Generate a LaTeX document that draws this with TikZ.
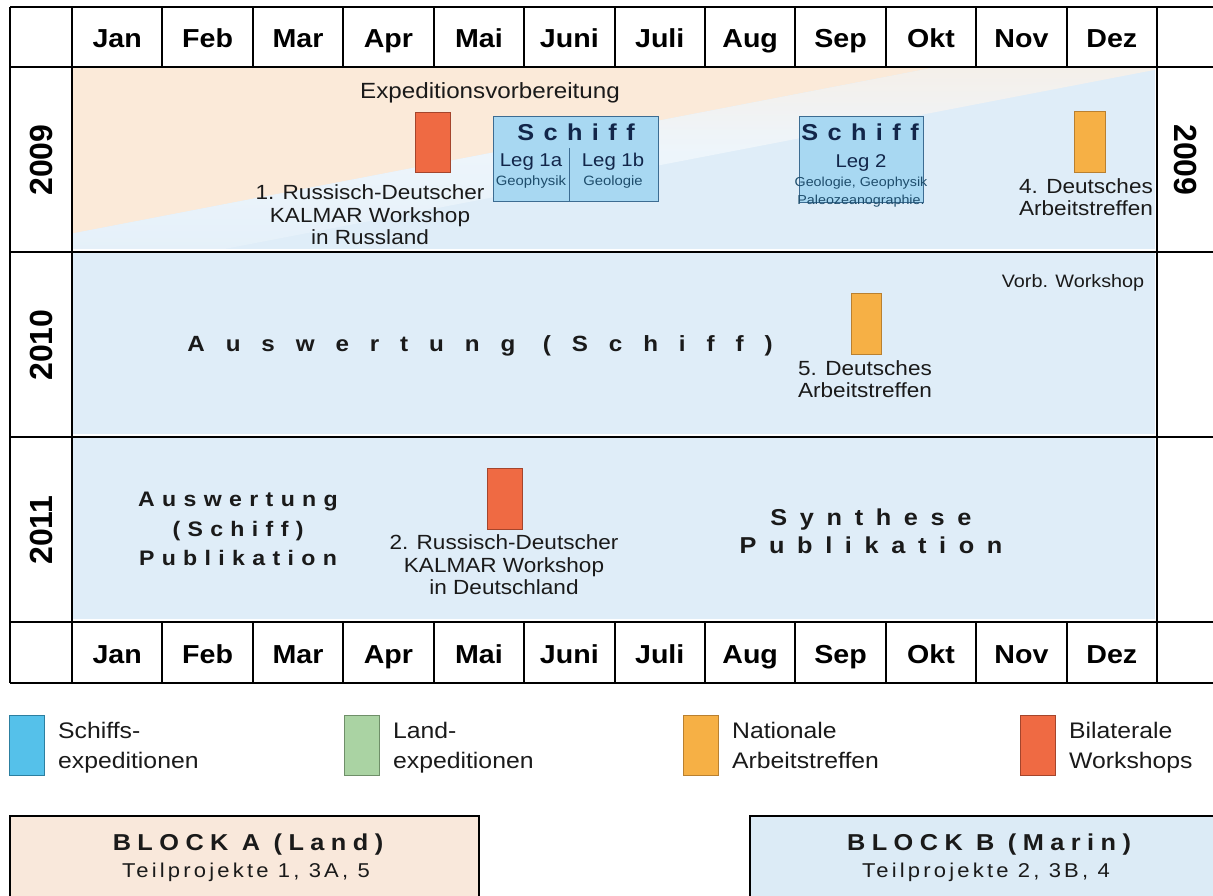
\documentclass[tikz,border=0pt]{standalone}
\usepackage{fontspec}
\setmainfont{Liberation Sans}[FakeStretch=1.1]
\newfontfamily\yearfont{Liberation Sans}
\newcommand\fsz[2]{\fontsize{#1}{#2}\selectfont}
\newcommand\track[1]{\addfontfeature{LetterSpace=#1}}

\definecolor{peach}{HTML}{FBEAD9}
\definecolor{rowblue}{HTML}{DFEDF8}
\definecolor{shipblue}{HTML}{A8D8F2}
\definecolor{shipline}{HTML}{3C6C92}
\definecolor{wsred}{HTML}{EF6A43}
\definecolor{wsline}{HTML}{A4452C}
\definecolor{natorange}{HTML}{F6B045}
\definecolor{natline}{HTML}{B98030}
\definecolor{landgreen}{HTML}{AAD3A3}
\definecolor{landline}{HTML}{6F8F69}
\definecolor{legblue}{HTML}{55C1EA}
\definecolor{legline}{HTML}{2C7FA0}
\definecolor{navy}{HTML}{12264A}
\definecolor{legtext}{HTML}{1E4D6C}
\definecolor{ink}{HTML}{1A1A1A}
\definecolor{blockA}{HTML}{F9E8DB}
\definecolor{blockB}{HTML}{DCEBF6}

\begin{document}
\begin{tikzpicture}[x=1pt,y=-1pt]
  \def\mw{90.42}
  \def\xo{72}

\tikzstyle{grid}=[line width=2pt,black]
\tikzstyle{month}=[anchor=base,inner sep=0pt,font=\fsz{26}{28}\bfseries]
\tikzstyle{year}=[inner sep=0pt,font=\yearfont\fsz{32}{34}\bfseries]
\tikzstyle{label}=[align=center,inner sep=0pt,text=ink,font=\fsz{20.5}{22.5}]
\tikzstyle{spaced}=[align=center,inner sep=0pt,text=ink]
\tikzstyle{workshop}=[fill=wsred,draw=wsline,line width=0.8pt,inner sep=0pt]
\tikzstyle{treffen}=[fill=natorange,draw=natline,line width=0.8pt,inner sep=0pt]
\tikzstyle{ship}=[fill=shipblue,draw=shipline,line width=1pt,inner sep=0pt]
\tikzstyle{keybox}=[line width=0.8pt,inner sep=0pt,minimum width=35pt,minimum height=60pt]
\tikzstyle{keytext}=[anchor=west,align=left,inner sep=0pt,text=ink,text depth=5pt,font=\fsz{22.5}{30}]

\useasboundingbox (0,0) rectangle (1213,896);
\clip (0,0) rectangle (1213,896);

% row backgrounds
\fill[rowblue] (72,67) rectangle (1155,249);
\begin{scope}
\clip (72,67) rectangle (1155,249);
\begin{scope}[shift={(72,258)},rotate=10.9]
\fill[peach] (-200,-500) rectangle (1300,-24);
\shade[top color=peach,bottom color=rowblue,middle color=white!45!rowblue] (-200,-24) rectangle (1300,20);
\end{scope}
\end{scope}
\fill[rowblue] (72,252) rectangle (1155,434);
\fill[rowblue] (72,437) rectangle (1155,619);

% table
\draw[grid] (10,7) -- (1215,7);
\draw[grid] (10,67) -- (1215,67);
\draw[grid] (10,252) -- (1215,252);
\draw[grid] (10,437) -- (1215,437);
\draw[grid] (10,622) -- (1215,622);
\draw[grid] (10,683) -- (1215,683);
\draw[grid] (10,7) -- (10,683);
\draw[grid] (\xo,7) -- (\xo,683);
\draw[grid] (1157,7) -- (1157,683);
\draw[grid] (\xo+1*\mw,7) -- (\xo+1*\mw,67) (\xo+1*\mw,622) -- (\xo+1*\mw,683);
\draw[grid] (\xo+2*\mw,7) -- (\xo+2*\mw,67) (\xo+2*\mw,622) -- (\xo+2*\mw,683);
\draw[grid] (\xo+3*\mw,7) -- (\xo+3*\mw,67) (\xo+3*\mw,622) -- (\xo+3*\mw,683);
\draw[grid] (\xo+4*\mw,7) -- (\xo+4*\mw,67) (\xo+4*\mw,622) -- (\xo+4*\mw,683);
\draw[grid] (\xo+5*\mw,7) -- (\xo+5*\mw,67) (\xo+5*\mw,622) -- (\xo+5*\mw,683);
\draw[grid] (\xo+6*\mw,7) -- (\xo+6*\mw,67) (\xo+6*\mw,622) -- (\xo+6*\mw,683);
\draw[grid] (\xo+7*\mw,7) -- (\xo+7*\mw,67) (\xo+7*\mw,622) -- (\xo+7*\mw,683);
\draw[grid] (\xo+8*\mw,7) -- (\xo+8*\mw,67) (\xo+8*\mw,622) -- (\xo+8*\mw,683);
\draw[grid] (\xo+9*\mw,7) -- (\xo+9*\mw,67) (\xo+9*\mw,622) -- (\xo+9*\mw,683);
\draw[grid] (\xo+10*\mw,7) -- (\xo+10*\mw,67) (\xo+10*\mw,622) -- (\xo+10*\mw,683);
\draw[grid] (\xo+11*\mw,7) -- (\xo+11*\mw,67) (\xo+11*\mw,622) -- (\xo+11*\mw,683);

% months
\node[month] (T1) at (\xo+0.5*\mw,48) {Jan};
\node[month] (T2) at (\xo+1.5*\mw,48) {Feb};
\node[month] (T3) at (\xo+2.5*\mw,48) {Mar};
\node[month] (T4) at (\xo+3.5*\mw,48) {Apr};
\node[month] (T5) at (\xo+4.5*\mw,48) {Mai};
\node[month] (T6) at (\xo+5.5*\mw,48) {Juni};
\node[month] (T7) at (\xo+6.5*\mw,48) {Juli};
\node[month] (T8) at (\xo+7.5*\mw,48) {Aug};
\node[month] (T9) at (\xo+8.5*\mw,48) {Sep};
\node[month] (T10) at (\xo+9.5*\mw,48) {Okt};
\node[month] (T11) at (\xo+10.5*\mw,48) {Nov};
\node[month] (T12) at (\xo+11.5*\mw,48) {Dez};
\node[month] (B1) at (\xo+0.5*\mw,663) {Jan};
\node[month] (B2) at (\xo+1.5*\mw,663) {Feb};
\node[month] (B3) at (\xo+2.5*\mw,663) {Mar};
\node[month] (B4) at (\xo+3.5*\mw,663) {Apr};
\node[month] (B5) at (\xo+4.5*\mw,663) {Mai};
\node[month] (B6) at (\xo+5.5*\mw,663) {Juni};
\node[month] (B7) at (\xo+6.5*\mw,663) {Juli};
\node[month] (B8) at (\xo+7.5*\mw,663) {Aug};
\node[month] (B9) at (\xo+8.5*\mw,663) {Sep};
\node[month] (B10) at (\xo+9.5*\mw,663) {Okt};
\node[month] (B11) at (\xo+10.5*\mw,663) {Nov};
\node[month] (B12) at (\xo+11.5*\mw,663) {Dez};

% years
\node[year,rotate=90] (Y2009) at (41,160) {2009};
\node[year,rotate=90] (Y2010) at (41,345) {2010};
\node[year,rotate=90] (Y2011) at (41,530) {2011};
\node[year,rotate=-90] (Y2009r) at (1186,160) {2009};

% 2009
\node[label,font=\fsz{22}{24}] (prep) at (490,93) {Expeditionsvorbereitung};
\node[workshop,minimum width=35pt,minimum height=60pt] (ws1) at (432.5,142) {};
\node[label] (ws1t) at (370,215) {1. Russisch-Deutscher\\KALMAR Workshop\\in Russland};
\node[ship,minimum width=165pt,minimum height=85pt] (leg1) at (575.5,159.5) {};
\draw[shipline,line width=1pt] (569,148) -- (569,202);
\node[spaced,text=navy,font=\fsz{23}{25}\bfseries\track{41}] (ship1) at (576,132) {Schiff};
\node[label,text=navy,font=\fsz{18.5}{20}] (leg1a) at (531,162) {Leg 1a};
\node[label,text=legtext,font=\fsz{13.5}{15}] (geo1a) at (531,182) {Geophysik};
\node[label,text=navy,font=\fsz{18.5}{20}] (leg1b) at (613,162) {Leg 1b};
\node[label,text=legtext,font=\fsz{13.5}{15}] (geo1b) at (613,182) {Geologie};
\node[ship,minimum width=124pt,minimum height=86pt] (leg2) at (861,160) {};
\node[spaced,text=navy,font=\fsz{23}{25}\bfseries\track{41}] (ship2) at (860,132) {Schiff};
\node[label,text=navy,font=\fsz{18.5}{20}] (leg2t) at (861,163) {Leg 2};
\node[label,text=legtext,font=\fsz{13}{15}] (geo2) at (861,183) {Geologie, Geophysik};
\node[label,text=legtext,font=\fsz{13}{15}] (paleo2) at (861,201) {Paleozeanographie.};
\node[treffen,minimum width=31pt,minimum height=61pt] (nt4) at (1089.5,141.5) {};
\node[label,align=right] (nt4t) at (1086,197) {4. Deutsches\\Arbeitstreffen};

% 2010
\node[spaced,font=\fsz{22}{24}\bfseries\track{95}] (ausw1) at (480,346) {Auswertung (Schiff)};
\node[treffen,minimum width=30pt,minimum height=61pt] (nt5) at (866,323.5) {};
\node[label] (nt5t) at (865,379) {5. Deutsches\\Arbeitstreffen};
\node[label,font=\fsz{18}{20}] (vorb) at (1073,283) {Vorb. Workshop};

% 2011
\node[spaced,font=\fsz{21}{29.5}\bfseries\track{35}] (ausw2) at (238,529) {Auswertung\\(Schiff)\\Publikation};
\node[workshop,minimum width=35pt,minimum height=61pt] (ws2) at (504.5,498.5) {};
\node[label] (ws2t) at (504,565) {2. Russisch-Deutscher\\KALMAR Workshop\\in Deutschland};
\node[spaced,font=\fsz{23}{28}\bfseries\track{55}] (synth) at (871,531) {Synthese\\Publikation};

% legend
\node[keybox,fill=legblue,draw=legline] (kship) at (26.5,745) {};
\node[keytext] (kshipt) at (58,748) {Schiffs-\\expeditionen};
\node[keybox,fill=landgreen,draw=landline] (kland) at (362,745) {};
\node[keytext] (klandt) at (393,748) {Land-\\expeditionen};
\node[keybox,fill=natorange,draw=natline] (knat) at (701,745) {};
\node[keytext] (knatt) at (732,748) {Nationale\\Arbeitstreffen};
\node[keybox,fill=wsred,draw=wsline] (kbil) at (1037.5,745) {};
\node[keytext] (kbilt) at (1069,748) {Bilaterale\\Workshops};

% blocks
\node[draw,line width=2pt,fill=blockA,minimum width=469pt,minimum height=120pt,anchor=north west] (blockA) at (9,815) {};
\node[spaced,font=\fsz{23}{25}\bfseries\track{28}] (blockAt) at (248,845) {BLOCK A (Land)};
\node[spaced,font=\fsz{20}{22}\track{16}] (blockAs) at (246,872) {Teilprojekte 1, 3A, 5};
\node[draw,line width=2pt,fill=blockB,minimum width=472pt,minimum height=120pt,anchor=north west] (blockB) at (749,815) {};
\node[spaced,font=\fsz{23}{25}\bfseries\track{28}] (blockBt) at (989,845) {BLOCK B (Marin)};
\node[spaced,font=\fsz{20}{22}\track{16}] (blockBs) at (986,872) {Teilprojekte 2, 3B, 4};
\end{tikzpicture}
\end{document}
